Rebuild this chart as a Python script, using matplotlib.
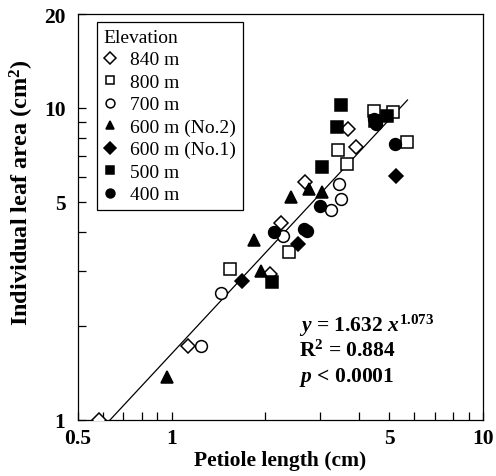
import matplotlib
matplotlib.use("Agg")
import matplotlib.pyplot as plt
from matplotlib.ticker import FixedLocator, FixedFormatter, NullFormatter
import numpy as np

plt.rcParams['font.family'] = ['Liberation Serif', 'DejaVu Serif']
plt.rcParams['mathtext.fontset'] = 'custom'
plt.rcParams['mathtext.rm'] = 'Liberation Serif:bold'
plt.rcParams['mathtext.it'] = 'Liberation Serif:italic:bold'
plt.rcParams['mathtext.bf'] = 'Liberation Serif:bold'

# Data: petiole length (cm) and individual leaf area (cm2), by elevation
x_840 = [0.584, 1.124, 2.076, 2.247, 2.69, 3.683, 3.90]
y_840 = [1.0, 1.723, 2.938, 4.27, 5.80, 8.565, 7.516]

x_800 = [1.543, 2.377, 3.666, 3.42, 4.467, 5.158, 5.72]
y_800 = [3.037, 3.447, 6.615, 7.35, 9.80, 9.69, 7.77]

x_700 = [1.245, 1.44, 2.281, 3.239, 3.488, 3.444]
y_700 = [1.730, 2.547, 3.896, 4.72, 5.11, 5.71]

x_600b = [0.969, 1.844, 1.938, 2.408, 2.758, 3.046]
y_600b = [1.37, 3.775, 3.01, 5.17, 5.50, 5.37]

x_600a = [1.683, 2.542, 5.247]
y_600a = [2.79, 3.665, 6.07]

x_500 = [2.102, 3.046, 3.405, 3.488, 4.932, 4.487]
y_500 = [2.763, 6.45, 8.71, 10.25, 9.45, 9.09]

x_400 = [2.127, 2.658, 2.712, 2.992, 4.467, 4.523, 5.208]
y_400 = [3.996, 4.095, 4.045, 4.86, 9.22, 8.89, 7.67]

labels = ['840 m', '800 m', '700 m', '600 m (No.2)', '600 m (No.1)', '500 m', '400 m']

fit_a = 1.632
fit_b = 1.073
fit_range = [0.633, 5.72]

fig = plt.figure(figsize=(4.96, 4.77), dpi=100)
ax = fig.add_axes([78/496, 1-421/477, 405/496, 406/477])
ax.set_xscale('log')
ax.set_yscale('log')
ax.set_xlim(0.5, 10)
ax.set_ylim(1, 20)

xf = np.linspace(fit_range[0], fit_range[1], 200)
ax.plot(xf, fit_a * xf ** fit_b, color='black', lw=0.9, zorder=1)

series = [
    (x_840, y_840, 'D', 'white', 7.5),
    (x_800, y_800, 's', 'white', 8.0),
    (x_700, y_700, 'o', 'white', 8.5),
    (x_600b, y_600b, '^', 'black', 8.5),
    (x_600a, y_600a, 'D', 'black', 7.5),
    (x_500, y_500, 's', 'black', 8.0),
    (x_400, y_400, 'o', 'black', 8.5),
]
for (xs, ys, m, fc, ms), lab in zip(series, labels):
    ax.plot(xs, ys, linestyle='none', marker=m, markerfacecolor=fc,
            markeredgecolor='black', markeredgewidth=1.1, markersize=ms,
            label=lab, zorder=3)

ax.xaxis.set_major_locator(FixedLocator([0.5, 1, 5, 10]))
ax.xaxis.set_major_formatter(FixedFormatter(['0.5', '1', '5', '10']))
ax.xaxis.set_minor_locator(FixedLocator([0.6, 0.7, 0.8, 0.9, 2, 3, 4, 6, 7, 8, 9]))
ax.xaxis.set_minor_formatter(NullFormatter())
ax.yaxis.set_major_locator(FixedLocator([1, 5, 10, 20]))
ax.yaxis.set_major_formatter(FixedFormatter(['1', '5', '10', '20']))
ax.yaxis.set_minor_locator(FixedLocator([2, 3, 4, 6, 7, 8, 9]))
ax.yaxis.set_minor_formatter(NullFormatter())

ax.tick_params(which='both', direction='in', length=6, width=0.9, top=False, right=False,
               labelsize=15.5)
ax.tick_params(axis='x', pad=6)
ax.tick_params(axis='y', pad=9)
for lbl in ax.get_xticklabels() + ax.get_yticklabels():
    lbl.set_fontweight('bold')
for s in ax.spines.values():
    s.set_linewidth(0.9)

ax.set_xlabel('Petiole length (cm)', fontsize=15.5, fontweight='bold', labelpad=1)
ax.set_ylabel('Individual leaf area (cm$^{2}$)', fontsize=17.5, fontweight='bold')
ax.yaxis.set_label_coords(-0.103, 0.562)

leg = ax.legend(title='Elevation', loc='upper left', bbox_to_anchor=(0.047, 0.98),
                borderaxespad=0, fontsize=14, title_fontsize=14, frameon=True,
                fancybox=False, edgecolor='black', framealpha=1, markerscale=0.75,
                handlelength=0.6, handletextpad=0.75, labelspacing=0.25, borderpad=0.35)
leg._legend_box.align = 'left'
leg.get_frame().set_linewidth(0.9)

ax.text(0.545, 0.22, r'$y$ = 1.632 $x^{1.073}$', transform=ax.transAxes, fontsize=15.5,
        fontweight='bold', va='baseline')
ax.text(0.545, 0.157, r'R$^{2}$ = 0.884', transform=ax.transAxes, fontsize=15.5,
        fontweight='bold', va='baseline')
ax.text(0.545, 0.095, r'$p$ < 0.0001', transform=ax.transAxes, fontsize=15.5,
        fontweight='bold', va='baseline')

fig.savefig('out.png', dpi=100)
